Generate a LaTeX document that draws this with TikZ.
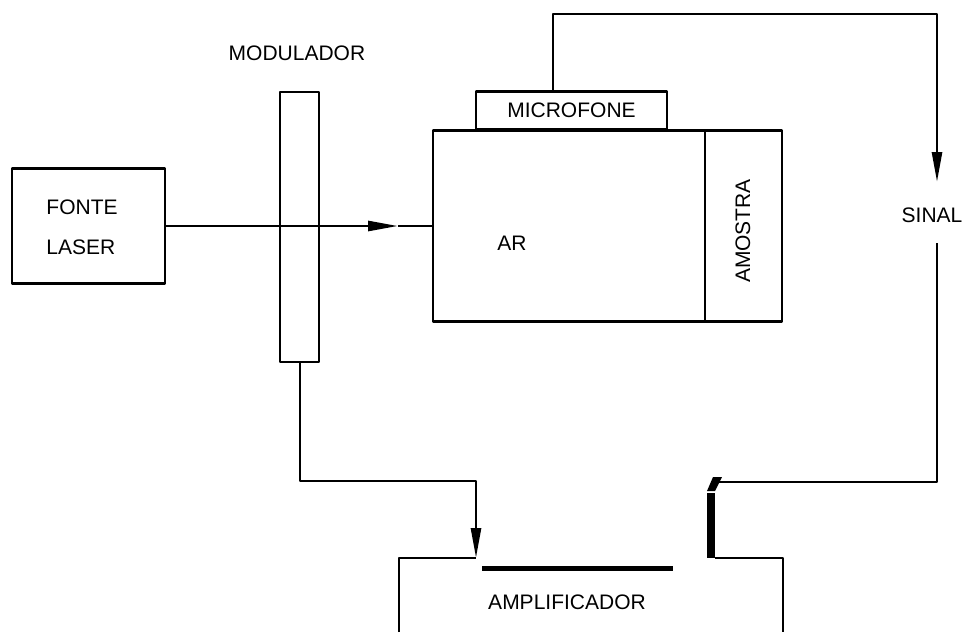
\documentclass[tikz,border=0pt]{standalone}
\usepackage{fontspec}
\setmainfont{Liberation Sans}
\usetikzlibrary{arrows.meta}
\begin{document}
\begin{tikzpicture}[x=1pt,y=-1pt,
  line width=2.7pt, line join=round,
  blk/.style={draw, rectangle, inner sep=0pt, line width=2.7pt},
  lbl/.style={font=\fontsize{21}{40}\selectfont, inner sep=0pt},
  arr/.style={-{Triangle[length=30pt,width=10pt]}},
  thickbar/.style={line width=5pt}]
\useasboundingbox (0,0) rectangle (966,632);
% blocks
\node[blk, minimum width=153pt, minimum height=115pt] (fonte) at (88.5,226) {};
\node[lbl, align=left] (fontetxt) at (82,227) {FONTE\\LASER};
\node[blk, minimum width=39pt, minimum height=270pt] (modul) at (299.5,227) {};
\node[lbl] (modultxt) at (297,53) {MODULADOR};
\node[blk, minimum width=272pt, minimum height=191pt] (ar) at (569,226) {};
\node[blk, minimum width=77pt, minimum height=191pt] (amostra) at (743.5,226) {};
\node[lbl] (artxt) at (512,243) {AR};
\node[lbl, rotate=90] (amostratxt) at (743,231) {AMOSTRA};
\node[blk, minimum width=191pt, minimum height=38pt, anchor=south] (micro) at (571.5,130.5) {};
\node[lbl] (microtxt) at (micro.center) {MICROFONE};
\node[lbl] (sinal) at (932,215) {SINAL};
\node[lbl] (amptxt) at (567,602) {AMPLIFICADOR};
% amplifier outline (partial, as printed)
\coordinate (ampL0) at (399,632);
\coordinate (ampL1) at (399,558);
\coordinate (ampin) at (476,558);
\coordinate (barA) at (482,568);
\coordinate (barB) at (673,568);
\coordinate (ampR0) at (715,558);
\coordinate (ampR1) at (783,558);
\coordinate (ampR2) at (783,632);
\draw (ampL0) -- (ampL1) -- (ampin);
\draw[thickbar] (barA) -- (barB);
\draw (ampR0) -- (ampR1) -- (ampR2);
\coordinate (inbarT) at (711,493);
\coordinate (inbarB) at (711,558);
\draw[line width=8pt] (inbarT) -- (inbarB);
\fill (707,491) -- (713,477) -- (722,477) -- (715,491) -- cycle;
% laser beam
\coordinate (laserTip) at (398,226);
\draw[arr] (fonte.east) -- (laserTip);
\draw (laserTip) -- (ar.west);
% modulator to amplifier
\coordinate (m1) at (300,481);
\coordinate (m2) at (476,481);
\draw[arr] (modul.south -| m1) -- (m1) -- (m2) -- (ampin);
% microphone signal
\coordinate (s0) at (553,14);
\coordinate (s1) at (937,14);
\coordinate (sTip) at (937,182);
\coordinate (s2) at (937,243);
\coordinate (s3) at (937,482);
\coordinate (s4) at (718,482);
\draw[arr] (micro.north -| s0) -- (s0) -- (s1) -- (sTip);
\draw (s2) -- (s3) -- (s4);
\end{tikzpicture}
\end{document}
